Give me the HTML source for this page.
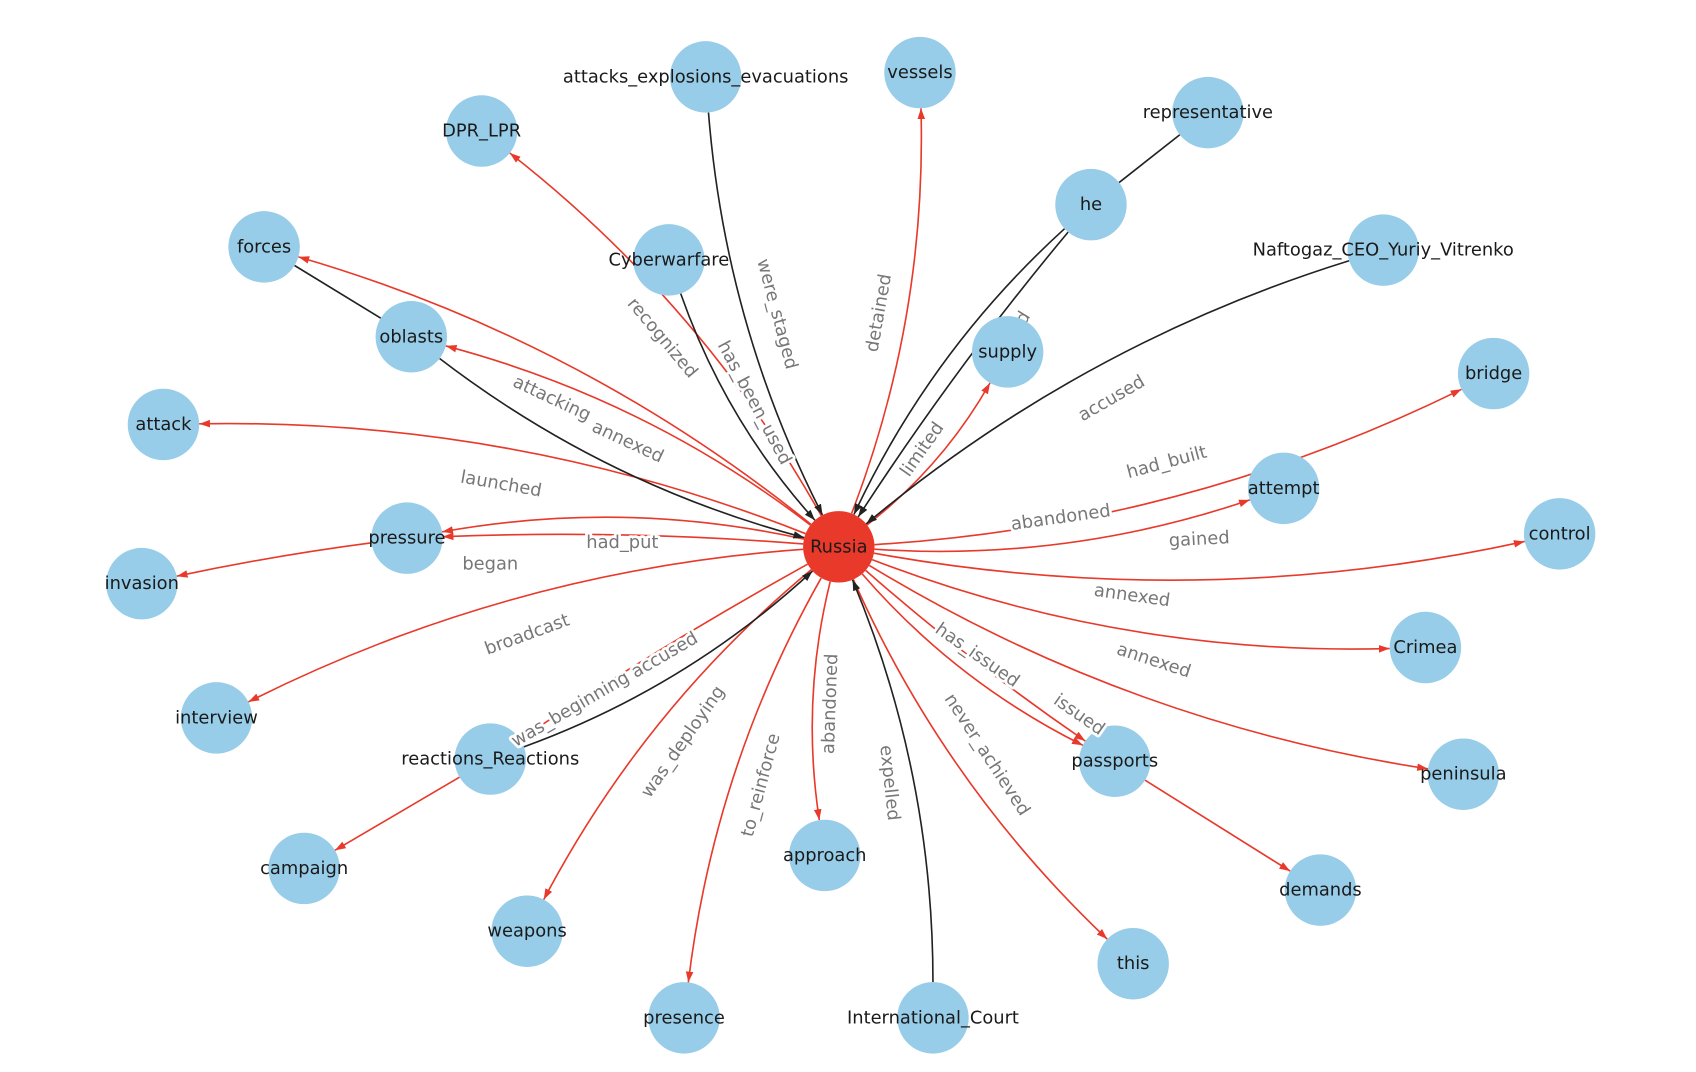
<!DOCTYPE html>
<html><head><meta charset="utf-8"><style>
html,body{margin:0;padding:0;background:#fff;}
svg{display:block;}
.nt{font-family:"DejaVu Sans","Liberation Sans",sans-serif;font-size:16.5px;fill:#1a1a1a;text-anchor:middle;dominant-baseline:central;}
.el{font-family:"DejaVu Sans","Liberation Sans",sans-serif;font-size:16.5px;fill:#777;text-anchor:middle;dominant-baseline:central;stroke:#fff;stroke-width:5px;paint-order:stroke;stroke-linejoin:round;}
</style></head><body>
<svg id="g" width="1696" height="1072" viewBox="0 0 1567 990" preserveAspectRatio="none" xmlns="http://www.w3.org/2000/svg">
<defs>
<marker id="ar" viewBox="0 0 10 10" refX="10" refY="5" markerWidth="10" markerHeight="10" markerUnits="userSpaceOnUse" orient="auto"><path d="M0,1.5 L10,5 L0,8.5 z" fill="#e8392a"/></marker>
<marker id="ab" viewBox="0 0 10 10" refX="10" refY="5" markerWidth="10" markerHeight="10" markerUnits="userSpaceOnUse" orient="auto"><path d="M0,1.5 L10,5 L0,8.5 z" fill="#222"/></marker>
</defs>
<g id="edges"></g>
<g><text class="el" transform="translate(930,318) rotate(-58)">accused</text></g>
<g id="nodes"></g>
<g id="elabels">
<text class="el" transform="translate(612,312) rotate(50)">recognized</text>
<text class="el" transform="translate(718,290) rotate(75)">were_staged</text>
<text class="el" transform="translate(697,372) rotate(62)">has_been_used</text>
<text class="el" transform="translate(812,289) rotate(-80)">detained</text>
<text class="el" transform="translate(852,415) rotate(-55)">limited</text>
<text class="el" transform="translate(1027,368) rotate(-30)">accused</text>
<text class="el" transform="translate(1078,427) rotate(-15)">had_built</text>
<text class="el" transform="translate(980,478) rotate(-8)">abandoned</text>
<text class="el" transform="translate(1108,498) rotate(-3)">gained</text>
<text class="el" transform="translate(1046,550) rotate(8)">annexed</text>
<text class="el" transform="translate(1066,610) rotate(18)">annexed</text>
<text class="el" transform="translate(903,605) rotate(35)">has_issued</text>
<text class="el" transform="translate(997,660) rotate(35)">issued</text>
<text class="el" transform="translate(912,697) rotate(57)">never_achieved</text>
<text class="el" transform="translate(822,723) rotate(84)">expelled</text>
<text class="el" transform="translate(767,650) rotate(-88)">abandoned</text>
<text class="el" transform="translate(703,725) rotate(-75)">to_reinforce</text>
<text class="el" transform="translate(631,685) rotate(-55)">was_deploying</text>
<text class="el" transform="translate(614,605) rotate(-30)">accused</text>
<text class="el" transform="translate(527,655) rotate(-30)">was_beginning</text>
<text class="el" transform="translate(487,586) rotate(-20)">broadcast</text>
<text class="el" transform="translate(575,501)">had_put</text>
<text class="el" transform="translate(453,521)">began</text>
<text class="el" transform="translate(463,447) rotate(10)">launched</text>
<text class="el" transform="translate(510,368) rotate(25)">attacking</text>
<text class="el" transform="translate(580,408) rotate(25)">annexed</text>
</g>
</svg>
<script>
var N={Russia:[775,505],attacks_explosions_evacuations:[652,71],vessels:[850,67],DPR_LPR:[445,121],representative:[1116,104],he:[1008,189],Naftogaz_CEO_Yuriy_Vitrenko:[1278,231],forces:[244,228],Cyberwarfare:[618,240],oblasts:[380,311],supply:[931,325],bridge:[1380,345],attack:[151,392],attempt:[1186,451],pressure:[376,497],control:[1441,493],invasion:[131,539],Crimea:[1317,598],interview:[200,663],reactions_Reactions:[453,701],passports:[1030,703],peninsula:[1352,715],campaign:[281,802],approach:[762,790],demands:[1220,822],weapons:[487,860],"this":[1047,890],presence:[632,940],International_Court:[862,940]};
var R='Russia';
var E=[[R,'DPR_LPR',1],['attacks_explosions_evacuations',R,0],['Cyberwarfare',R,0],[R,'vessels',1],['representative','he',0,0],['he',R,0],['he',R,0,0.03],[R,'supply',1],['Naftogaz_CEO_Yuriy_Vitrenko',R,0],[R,'bridge',1],[R,'attempt',1],[R,'control',1],[R,'Crimea',1],[R,'peninsula',1],[R,'passports',1],[R,'passports',1,0.03],['passports','demands',1,0],[R,'this',1],['International_Court',R,0],[R,'approach',1],[R,'presence',1],[R,'weapons',1],['reactions_Reactions',R,0],[R,'reactions_Reactions',1,0.02],['reactions_Reactions','campaign',1,0],[R,'interview',1],[R,'pressure',1],[R,'pressure',1,0.03],['pressure','invasion',1,0.02],[R,'attack',1],[R,'oblasts',1],['forces','oblasts',0,0],['oblasts',R,0],[R,'forces',1]];
var ns='http://www.w3.org/2000/svg',ge=document.getElementById('edges'),gn=document.getElementById('nodes');
E.forEach(function(e){var a=N[e[0]],b=N[e[1]],f=e.length>3?e[3]:0.1;
var dx=b[0]-a[0],dy=b[1]-a[1],mx=(a[0]+b[0])/2,my=(a[1]+b[1])/2;
var cx=mx-f*dy,cy=my+f*dx;
var r=33;function sh(p,q){var vx=q[0]-p[0],vy=q[1]-p[1],l=Math.hypot(vx,vy);return [p[0]+vx/l*r,p[1]+vy/l*r];}
var s=sh(a,[cx,cy]),t=sh(b,[cx,cy]);
var p=document.createElementNS(ns,'path');
p.setAttribute('d','M'+s[0]+','+s[1]+' Q'+cx+','+cy+' '+t[0]+','+t[1]);
p.setAttribute('fill','none');var col=e[2]?'#e8392a':'#222';p.setAttribute('stroke',col);p.setAttribute('stroke-width','1.5');
if(!(e[0]=='representative'||e[0]=='forces'))p.setAttribute('marker-end',e[2]?'url(#ar)':'url(#ab)');
ge.appendChild(p);});
for(var k in N){var c=document.createElementNS(ns,'circle');c.setAttribute('cx',N[k][0]);c.setAttribute('cy',N[k][1]);c.setAttribute('r',33);c.setAttribute('fill',k==R?'#e8392a':'#97cde8');gn.appendChild(c);}
</script>
<svg style="position:absolute;left:0;top:0" width="1696" height="1072" viewBox="0 0 1567 990" preserveAspectRatio="none" xmlns="http://www.w3.org/2000/svg">
<text class="nt" x="775" y="505">Russia</text>
<text class="nt" x="652" y="71">attacks_explosions_evacuations</text>
<text class="nt" x="850" y="67">vessels</text>
<text class="nt" x="445" y="121">DPR_LPR</text>
<text class="nt" x="1116" y="104">representative</text>
<text class="nt" x="1008" y="189">he</text>
<text class="nt" x="1278" y="231">Naftogaz_CEO_Yuriy_Vitrenko</text>
<text class="nt" x="244" y="228">forces</text>
<text class="nt" x="618" y="240">Cyberwarfare</text>
<text class="nt" x="380" y="311">oblasts</text>
<text class="nt" x="931" y="325">supply</text>
<text class="nt" x="1380" y="345">bridge</text>
<text class="nt" x="151" y="392">attack</text>
<text class="nt" x="1186" y="451">attempt</text>
<text class="nt" x="376" y="497">pressure</text>
<text class="nt" x="1441" y="493">control</text>
<text class="nt" x="131" y="539">invasion</text>
<text class="nt" x="1317" y="598">Crimea</text>
<text class="nt" x="200" y="663">interview</text>
<text class="nt" x="453" y="701">reactions_Reactions</text>
<text class="nt" x="1030" y="703">passports</text>
<text class="nt" x="1352" y="715">peninsula</text>
<text class="nt" x="281" y="802">campaign</text>
<text class="nt" x="762" y="790">approach</text>
<text class="nt" x="1220" y="822">demands</text>
<text class="nt" x="487" y="860">weapons</text>
<text class="nt" x="1047" y="890">this</text>
<text class="nt" x="632" y="940">presence</text>
<text class="nt" x="862" y="940">International_Court</text>
</svg>
</body></html>
